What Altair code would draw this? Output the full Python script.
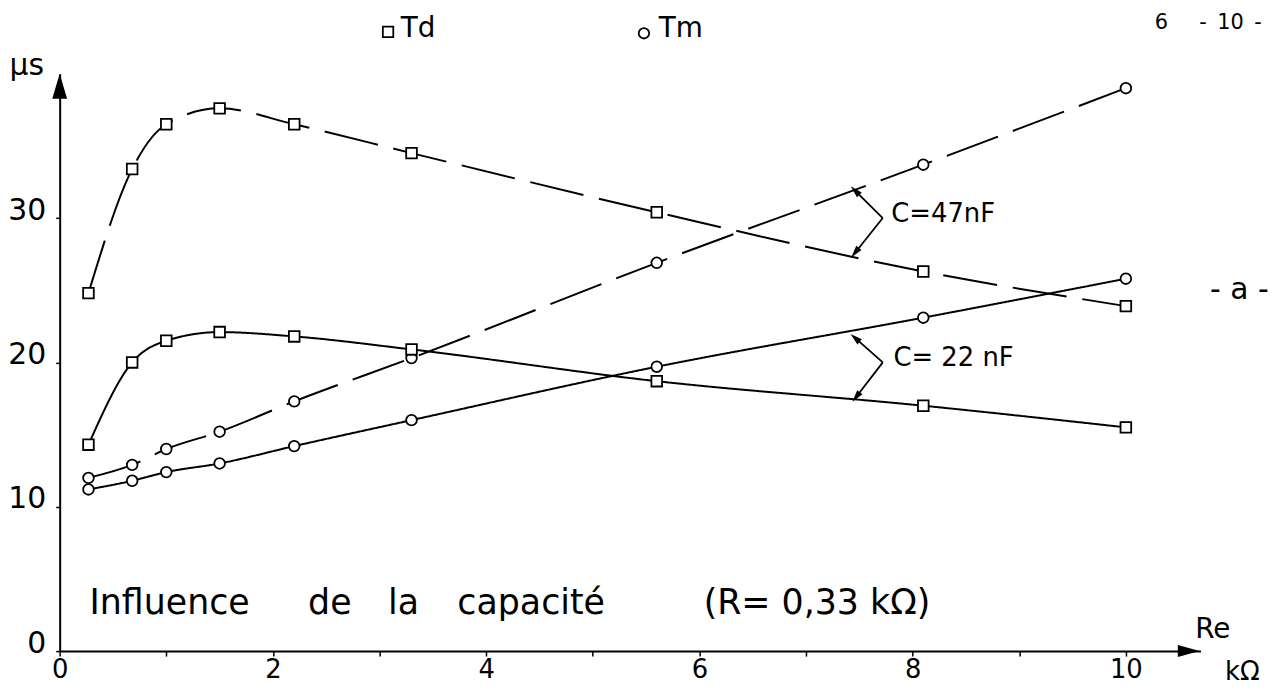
import altair as alt
import pandas as pd

# ---------------- data ----------------
re_kohm = [0.27, 0.68, 1.0, 1.5, 2.2, 3.3, 5.6, 8.1, 10.0]
td_47nf = [24.8, 33.4, 36.5, 37.6, 36.5, 34.5, 30.4, 26.3, 23.9]
tm_47nf = [12.0, 12.9, 14.0, 15.2, 17.3, 20.3, 26.9, 33.7, 39.0]
td_22nf = [14.3, 20.0, 21.5, 22.1, 21.8, 20.9, 18.7, 17.0, 15.5]
tm_22nf = [11.2, 11.8, 12.4, 13.0, 14.2, 16.0, 19.7, 23.1, 25.8]

x_ticks = list(range(0, 11))
y_ticks = [0, 10, 20, 30]

# annotation texts (anchored in data units)
label_text = ["µs", "Td", "Tm", "6\u2003\u2002-\u200210\u2002-", "- a -", "C=47nF", "C= 22 nF",
              "Re", "kΩ", "Influence", "de", "la", "capacité", "(R= 0,33 kΩ)"]
label_x = [-0.47, 3.20, 5.62, 10.27, 10.79, 7.80, 7.82, 10.65, 10.93,
           0.28, 2.33, 3.08, 3.73, 6.04]
label_y = [40.5, 43.1, 43.1, 43.5, 25.0, 30.3, 20.3, 1.45, -1.45,
           3.3, 3.3, 3.3, 3.3, 3.3]
label_size = [30, 28, 28, 21, 30, 26, 26, 28, 26, 35, 35, 35, 35, 35]

legend_sym_x = [3.08, 5.48]
legend_sym_y = [42.9, 42.8]
legend_sym_q = ["Td", "Tm"]

# bracket arrows "C=..." : vertex -> tip
arrow_x0 = [7.72, 7.72, 7.72, 7.72]
arrow_y0 = [30.0, 30.0, 20.0, 20.0]
arrow_x1 = [7.46, 7.46, 7.46, 7.47]
arrow_y1 = [31.9, 27.6, 21.7, 17.6]
arrow_angle = [315, 219, 311, 218]

# ---------------- tables ----------------
rows = []
for cap, qty, vals in [("47 nF", "Td", td_47nf), ("47 nF", "Tm", tm_47nf),
                       ("22 nF", "Td", td_22nf), ("22 nF", "Tm", tm_22nf)]:
    for xv, yv in zip(re_kohm, vals):
        rows.append({"x": xv, "y": yv, "cap": cap, "qty": qty, "series": qty + " " + cap})
df = pd.DataFrame(rows)

labels = pd.DataFrame({"x": label_x, "y": label_y, "text": label_text, "fs": label_size})
legend_df = pd.DataFrame({"x": legend_sym_x, "y": legend_sym_y, "qty": legend_sym_q})
arrows = pd.DataFrame({"x": arrow_x0, "y": arrow_y0, "x2": arrow_x1, "y2": arrow_y1,
                       "angle": arrow_angle})
heads = pd.DataFrame({"x": arrow_x1, "y": arrow_y1, "angle": arrow_angle})
axis_heads_y = pd.DataFrame({"x": [0.0], "y": [39.13]})
axis_heads_x = pd.DataFrame({"x": [10.59], "y": [0.0]})

FONT = "DejaVu Sans"

x_axis = alt.Axis(values=x_ticks, labelExpr="datum.value % 2 === 0 ? datum.label : ''",
                  grid=False, tickSize=5, tickWidth=1.5, tickColor="black",
                  domainColor="black", domainWidth=2, labelFontSize=26, labelFont=FONT,
                  labelColor="black", labelPadding=1, title=None, labelFlush=False)
y_axis = alt.Axis(values=y_ticks, grid=False, tickSize=4, tickWidth=1.5, tickColor="black",
                  domainColor="black", domainWidth=2, labelFontSize=30, labelFont=FONT,
                  labelColor="black", labelPadding=10, labelOffset=-8, title=None,
                  labelFlush=False)

xs = alt.Scale(domain=[0, 10.7], nice=False, zero=False)
ys = alt.Scale(domain=[0, 40], nice=False, zero=False)


def X(f="x"):
    return alt.X(f"{f}:Q", scale=xs, axis=x_axis)


def Y(f="y"):
    return alt.Y(f"{f}:Q", scale=ys, axis=y_axis)


shape_scale = alt.Scale(domain=["Td", "Tm"], range=["square", "circle"])

lines = alt.Chart(df).mark_line(interpolate="monotone", strokeWidth=2, color="black").encode(
    x=X(), y=Y(), detail="series:N",
    strokeDash=alt.StrokeDash("cap:N", scale=alt.Scale(domain=["47 nF", "22 nF"],
                                                       range=[[55, 16], [1, 0]]), legend=None),
)

points = alt.Chart(df).mark_point(filled=True, fill="white", stroke="black", strokeWidth=1.8,
                                  size=115, opacity=1).encode(
    x=X(), y=Y(), shape=alt.Shape("qty:N", scale=shape_scale, legend=None),
)

legend_pts = alt.Chart(legend_df).mark_point(filled=True, fill="white", stroke="black",
                                             strokeWidth=1.8, size=110, opacity=1).encode(
    x=X(), y=Y(), shape=alt.Shape("qty:N", scale=shape_scale, legend=None),
)

arrow_lines = alt.Chart(arrows).mark_rule(color="black", strokeWidth=1.8).encode(
    x=X(), y=Y(), x2="x2:Q", y2="y2:Q")

arrow_heads = alt.Chart(heads).mark_point(shape="M0,-1L0.55,1L-0.55,1Z", filled=True,
                                          color="black", size=150, opacity=1).encode(
    x=X(), y=Y(), angle=alt.Angle("angle:Q", scale=None))

yhead = alt.Chart(axis_heads_y).mark_point(shape="M0,-1L0.6,1L-0.6,1Z", filled=True,
                                           color="black", size=625, opacity=1).encode(
    x=X(), y=Y())
xhead = alt.Chart(axis_heads_x).mark_point(shape="M1,0L-1,-0.55L-1,0.55Z", filled=True,
                                           color="black", size=484, opacity=1).encode(
    x=X(), y=Y())

texts = alt.Chart(labels).mark_text(align="left", baseline="middle", font=FONT,
                                    color="black").encode(
    x=X(), y=Y(), text="text:N", size=alt.Size("fs:Q", scale=None))

chart = alt.layer(lines, points, legend_pts, arrow_lines, arrow_heads, yhead, xhead, texts).properties(
    width=1148, height=581,
    padding={"left": 52, "top": 64, "right": 79, "bottom": 34},
    autosize=alt.AutoSizeParams(type="none"),
    background="white",
).configure_view(stroke=None)

chart.save("out.html", embed_options={"renderer": "svg", "actions": False})
